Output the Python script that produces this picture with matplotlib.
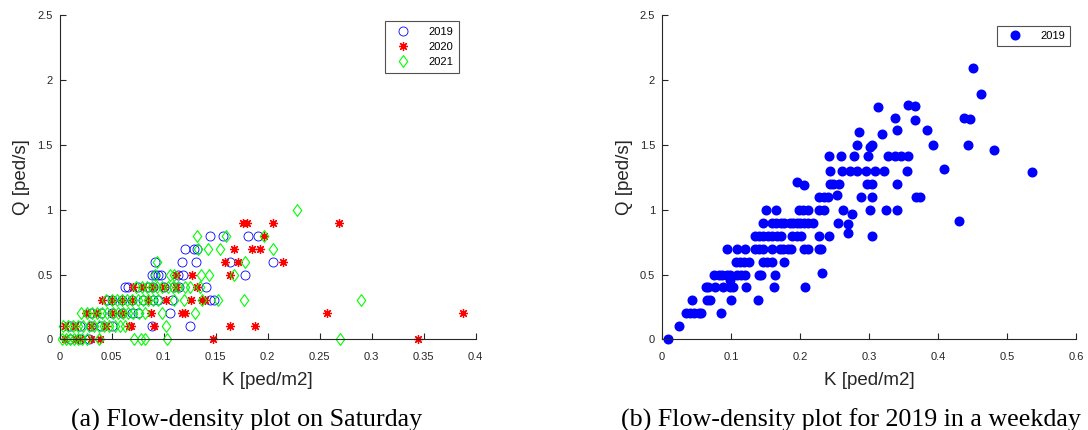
import matplotlib
matplotlib.use("Agg")
import matplotlib.pyplot as plt
from matplotlib.path import Path
import numpy as np

# ---- data ----
# (a) Saturday, three years: density K [ped/m2] and flow Q [ped/s]
k_2019 = [0.010, 0.020, 0.028,
          0.010, 0.020, 0.030, 0.040, 0.050, 0.089, 0.125,
          0.030, 0.040, 0.050, 0.060, 0.070, 0.075, 0.106,
          0.046, 0.050, 0.060, 0.070, 0.080, 0.090, 0.095, 0.108, 0.145, 0.149,
          0.063, 0.066, 0.075, 0.085, 0.090, 0.100, 0.110, 0.115, 0.141,
          0.089, 0.092, 0.095, 0.098, 0.114, 0.119, 0.178,
          0.092, 0.118, 0.131, 0.164, 0.205,
          0.121, 0.129, 0.132,
          0.145, 0.157, 0.181, 0.191]
q_2019 = [0.0, 0.0, 0.0,
          0.1, 0.1, 0.1, 0.1, 0.1, 0.1, 0.1,
          0.2, 0.2, 0.2, 0.2, 0.2, 0.2, 0.2,
          0.3, 0.3, 0.3, 0.3, 0.3, 0.3, 0.3, 0.3, 0.3, 0.3,
          0.4, 0.4, 0.4, 0.4, 0.4, 0.4, 0.4, 0.4, 0.4,
          0.5, 0.5, 0.5, 0.5, 0.5, 0.5, 0.5,
          0.6, 0.6, 0.6, 0.6, 0.6,
          0.7, 0.7, 0.7,
          0.8, 0.8, 0.8, 0.8]

k_2020 = [0.005, 0.015, 0.020, 0.030, 0.039, 0.148, 0.345,
          0.005, 0.015, 0.030, 0.045, 0.067, 0.069, 0.091, 0.164, 0.188,
          0.025, 0.035, 0.050, 0.060, 0.088, 0.118, 0.121, 0.257, 0.388,
          0.041, 0.050, 0.060, 0.070, 0.085, 0.102, 0.126, 0.137, 0.140,
          0.071, 0.080, 0.090, 0.100, 0.112, 0.132,
          0.112, 0.127, 0.164,
          0.159, 0.172, 0.215,
          0.168, 0.185, 0.193,
          0.197,
          0.176, 0.180, 0.205, 0.269]
q_2020 = [0.0, 0.0, 0.0, 0.0, 0.0, 0.0, 0.0,
          0.1, 0.1, 0.1, 0.1, 0.1, 0.1, 0.1, 0.1, 0.1,
          0.2, 0.2, 0.2, 0.2, 0.2, 0.2, 0.2, 0.2, 0.2,
          0.3, 0.3, 0.3, 0.3, 0.3, 0.3, 0.3, 0.3, 0.3,
          0.4, 0.4, 0.4, 0.4, 0.4, 0.4,
          0.5, 0.5, 0.5,
          0.6, 0.6, 0.6,
          0.7, 0.7, 0.7,
          0.8,
          0.9, 0.9, 0.9, 0.9]

k_2021 = [0.002, 0.006, 0.010, 0.014, 0.018, 0.022, 0.026, 0.038, 0.072, 0.078, 0.082, 0.103, 0.270,
          0.003, 0.008, 0.013, 0.018, 0.023, 0.028, 0.033, 0.038, 0.043, 0.048, 0.053, 0.058, 0.063, 0.102,
          0.021, 0.026, 0.031, 0.036, 0.041, 0.046, 0.051, 0.056, 0.061, 0.066, 0.071, 0.076, 0.082, 0.099, 0.130,
          0.045, 0.050, 0.055, 0.060, 0.065, 0.070, 0.075, 0.080, 0.085, 0.090, 0.095, 0.110, 0.120, 0.137,
          0.152, 0.177, 0.290,
          0.074, 0.079, 0.084, 0.089, 0.094, 0.099, 0.104, 0.109, 0.114, 0.121, 0.125, 0.135,
          0.092, 0.106, 0.110, 0.136, 0.144, 0.168,
          0.094, 0.178,
          0.133, 0.143, 0.154, 0.205,
          0.132, 0.160, 0.197,
          0.228]
q_2021 = [0.0] * 13 + [0.1] * 14 + [0.2] * 15 + [0.3] * 17 + [0.4] * 12 + \
         [0.5] * 6 + [0.6] * 2 + [0.7] * 4 + [0.8] * 3 + [1.0]

# (b) weekday 2019
k_week = [0.008, 0.025,
          0.034, 0.041, 0.047, 0.053, 0.057, 0.086,
          0.044, 0.065, 0.070, 0.100, 0.139,
          0.063, 0.067, 0.077, 0.089, 0.099, 0.103, 0.121, 0.162, 0.207,
          0.099,
          0.076, 0.082, 0.087, 0.094, 0.099, 0.108, 0.114, 0.120, 0.140, 0.143, 0.163, 0.232,
          0.107, 0.113, 0.119, 0.126, 0.147, 0.152, 0.159, 0.177,
          0.094, 0.108, 0.120, 0.135, 0.140, 0.147, 0.160, 0.171, 0.176, 0.182, 0.187,
          0.206, 0.212, 0.227, 0.231,
          0.134, 0.140, 0.147, 0.154, 0.159, 0.166, 0.173, 0.189, 0.195, 0.202, 0.227,
          0.242, 0.269, 0.305,
          0.147, 0.159, 0.165, 0.172, 0.177, 0.185, 0.190, 0.195, 0.200, 0.206, 0.212,
          0.219, 0.255, 0.269, 0.430,
          0.151, 0.165, 0.198, 0.205, 0.211, 0.228, 0.234, 0.262, 0.276, 0.301, 0.324, 0.340,
          0.227, 0.234, 0.241, 0.254, 0.288, 0.305, 0.368, 0.374,
          0.195, 0.206, 0.244, 0.248, 0.257, 0.297, 0.304, 0.341,
          0.244, 0.261, 0.273, 0.282, 0.296, 0.309, 0.321, 0.355, 0.409, 0.536,
          0.242, 0.260, 0.278, 0.299, 0.327, 0.338, 0.347, 0.356,
          0.282, 0.302, 0.305, 0.392, 0.444, 0.481,
          0.285, 0.319, 0.340, 0.384,
          0.338, 0.367, 0.437, 0.446,
          0.313, 0.356, 0.367,
          0.462, 0.450]
q_week = [0.0, 0.1,
          0.2, 0.2, 0.2, 0.2, 0.2, 0.2,
          0.3, 0.3, 0.3, 0.3, 0.3,
          0.4, 0.4, 0.4, 0.4, 0.4, 0.4, 0.4, 0.4, 0.4,
          0.46,
          0.5, 0.5, 0.5, 0.5, 0.5, 0.5, 0.5, 0.5, 0.5, 0.5, 0.5, 0.51,
          0.6, 0.6, 0.6, 0.6, 0.6, 0.6, 0.6, 0.6,
          0.7, 0.7, 0.7, 0.7, 0.7, 0.7, 0.7, 0.7, 0.7, 0.7, 0.7,
          0.7, 0.7, 0.7, 0.7,
          0.8, 0.8, 0.8, 0.8, 0.8, 0.8, 0.8, 0.8, 0.8, 0.8, 0.8,
          0.8, 0.82, 0.8,
          0.9, 0.9, 0.9, 0.9, 0.9, 0.9, 0.9, 0.9, 0.9, 0.9, 0.9,
          0.9, 0.9, 0.89, 0.91,
          1.0, 1.0, 1.0, 1.0, 1.0, 1.0, 1.0, 1.0, 0.97, 1.0, 1.0, 1.0,
          1.1, 1.1, 1.1, 1.11, 1.1, 1.1, 1.1, 1.1,
          1.21, 1.19, 1.2, 1.2, 1.2, 1.2, 1.2, 1.2,
          1.3, 1.3, 1.3, 1.3, 1.3, 1.3, 1.3, 1.3, 1.31, 1.29,
          1.41, 1.41, 1.41, 1.41, 1.41, 1.41, 1.41, 1.41,
          1.5, 1.48, 1.5, 1.5, 1.5, 1.46,
          1.6, 1.58, 1.61, 1.61,
          1.71, 1.69, 1.71, 1.70,
          1.79, 1.81, 1.80,
          1.89, 2.09]

AX_COL = (0.15, 0.15, 0.15)
plt.rcParams['font.family'] = ['Liberation Sans', 'DejaVu Sans']

# MATLAB-like diamond (a bit wider than matplotlib's 'd')
diamond = Path([(0, 1), (0.72, 0), (0, -1), (-0.72, 0), (0, 1)],
               [Path.MOVETO, Path.LINETO, Path.LINETO, Path.LINETO, Path.CLOSEPOLY])

fig = plt.figure(figsize=(10.88, 4.30), dpi=100)
ax1 = fig.add_axes([0.0547, 0.2107, 0.3824, 0.7544])
ax2 = fig.add_axes([0.6085, 0.2107, 0.3805, 0.7544])


def style_axes(ax, xmax, xticks, xlabels):
    ax.set_xlim(0, xmax)
    ax.set_ylim(0, 2.5)
    ax.set_xticks(xticks)
    ax.set_xticklabels(xlabels)
    ax.set_yticks([0, 0.5, 1, 1.5, 2, 2.5])
    ax.set_yticklabels(['0', '0.5', '1', '1.5', '2', '2.5'])
    for s in ['top', 'right']:
        ax.spines[s].set_visible(False)
    for s in ['left', 'bottom']:
        ax.spines[s].set_color(AX_COL)
        ax.spines[s].set_linewidth(0.8)
    ax.tick_params(direction='in', length=4, width=0.8, colors=AX_COL,
                   labelsize=8)
    ax.tick_params(axis='x', pad=9)
    ax.tick_params(axis='y', pad=5)
    ax.set_xlabel('K [ped/m2]', fontsize=13.5, color=AX_COL, labelpad=7)
    ax.set_ylabel('Q [ped/s]', fontsize=13.5, color=AX_COL, labelpad=5)


ax1.plot(k_2019, q_2019, linestyle='none', marker='o', ms=6.5, mfc='none',
         mec='blue', mew=0.6, label='2019', clip_on=False)
ax1.plot(k_2020, q_2020, linestyle='none', marker=(8, 2, 0), ms=6.5,
         mec='red', mew=0.9, color='red', label='2020', clip_on=False)
ax1.plot(k_2021, q_2021, linestyle='none', marker=diamond, ms=8.5, mfc='none',
         mec=(0, 1, 0), mew=0.8, label='2021', clip_on=False)
style_axes(ax1, 0.4, np.arange(0, 0.401, 0.05),
           ['0', '0.05', '0.1', '0.15', '0.2', '0.25', '0.3', '0.35', '0.4'])
leg1 = ax1.legend(loc='upper right', bbox_to_anchor=(0.96, 0.98), fontsize=8,
                  frameon=True, fancybox=False, borderpad=0.5, labelspacing=0.45,
                  handletextpad=1.2, borderaxespad=0, handlelength=2.2)
leg1.get_frame().set_edgecolor(AX_COL)
leg1.get_frame().set_linewidth(0.8)

ax2.plot(k_week, q_week, linestyle='none', marker='o', ms=6.2, mfc='blue',
         mec='blue', label='2019', clip_on=False)
style_axes(ax2, 0.6, np.arange(0, 0.601, 0.1),
           ['0', '0.1', '0.2', '0.3', '0.4', '0.5', '0.6'])
leg2 = ax2.legend(loc='upper right', bbox_to_anchor=(0.985, 0.965), fontsize=8,
                  frameon=True, fancybox=False, borderpad=0.45,
                  handletextpad=1.2, borderaxespad=0, handlelength=2.2)
leg2.get_frame().set_edgecolor(AX_COL)
leg2.get_frame().set_linewidth(0.8)

serif = ['Liberation Serif', 'DejaVu Serif']
fig.text(0.227, 0.009, '(a) Flow-density plot on Saturday', ha='center',
         va='baseline', fontsize=18.7, family=serif)
fig.text(0.782, 0.009, '(b) Flow-density plot for 2019 in a weekday', ha='center',
         va='baseline', fontsize=18.7, family=serif)

fig.savefig('out.png', dpi=100)
